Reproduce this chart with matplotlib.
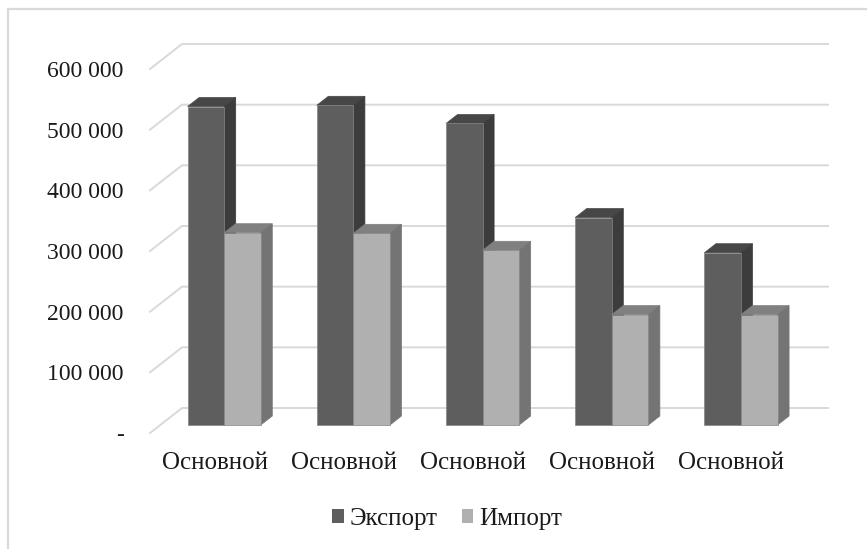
#!/usr/bin/env python3
import matplotlib
matplotlib.use('Agg')
import matplotlib.pyplot as plt
from matplotlib.patches import Polygon, Patch, Rectangle

categories = ['Основной', 'Основной', 'Основной', 'Основной', 'Основной']
export_values = [525000, 527000, 497000, 342000, 284000]
import_values = [317000, 316000, 288000, 182000, 182000]
y_ticks = [0, 100000, 200000, 300000, 400000, 500000, 600000]
y_labels = ['-', '100 000', '200 000', '300 000', '400 000', '500 000', '600 000']

W, H = 867, 549
# how far the back wall sits from the front edge of the floor
depth_x = 32 / 129.2
depth_y = 25 / 60.67 * 100000
bar_width = 0.283
bar_off = -0.005
bar_near = 0.32
bar_far = 0.68


def shift(x, y, d):
  return (x + d * depth_x, y + d * depth_y)


def draw_bar(ax, x0, x1, v, front, top, side):
  a, b = bar_near, bar_far
  ax.add_patch(Polygon([shift(x0, v, a), shift(x1, v, a), shift(x1, v, b), shift(x0, v, b)],
                       fc=top, ec=top, lw=0.5, clip_on=False, zorder=3))
  ax.add_patch(Polygon([shift(x1, 0, a), shift(x1, 0, b), shift(x1, v, b), shift(x1, v, a)],
                       fc=side, ec=side, lw=0.5, clip_on=False, zorder=3))
  ax.add_patch(Polygon([shift(x0, 0, a), shift(x1, 0, a), shift(x1, v, a), shift(x0, v, a)],
                       fc=front, ec='#858585', lw=0.5, clip_on=False, zorder=3))


plt.rcParams['font.family'] = ['Liberation Serif', 'DejaVu Serif']
fig = plt.figure(figsize=(W / 100, H / 100), dpi=100)
fig.add_artist(Rectangle((8 / W, -0.1), 1, 1 - 9 / H + 0.1, transform=fig.transFigure,
                         fc='none', ec='#d9d9d9', lw=1.6))

ax = fig.add_axes([150 / W, 1 - 433 / H, 646 / W, 364 / H])
ax.set_xlim(-0.5, 4.5)
ax.set_ylim(0, 600000)
for s in ax.spines.values():
  s.set_visible(False)
ax.patch.set_visible(False)

# grid on floor edge and back wall
for t in y_ticks:
  p = shift(-0.5, t, 1)
  q = shift(4.5, t, 1)
  ax.plot([-0.5, p[0], q[0]], [t, p[1], q[1]], color='#d9d9d9', lw=1.4, clip_on=False, zorder=1)

for i in range(len(categories)):
  c = i + bar_off
  draw_bar(ax, c - bar_width, c, export_values[i], '#5e5e5e', '#474747', '#3c3c3c')
  draw_bar(ax, c, c + bar_width, import_values[i], '#b0b0b0', '#808080', '#747474')

ax.set_xticks(range(len(categories)))
ax.set_xticklabels(categories, fontsize=18, color='#1a1a1a')
ax.set_yticks(y_ticks)
ax.set_yticklabels(y_labels, fontsize=17, color='#1a1a1a')
ax.tick_params(axis='both', length=0)
ax.tick_params(axis='y', pad=19)
ax.tick_params(axis='x', pad=14)

handles = [Patch(fc='#5e5e5e', label='Экспорт'), Patch(fc='#b0b0b0', label='Импорт')]
fig.legend(handles=handles, loc='center', bbox_to_anchor=(447 / W, 1 - 519 / H), ncol=2,
           frameon=False, fontsize=18, handlelength=0.45, handleheight=0.45,
           handletextpad=0.24, columnspacing=0.96, labelcolor='#1a1a1a')

fig.savefig('out.png', dpi=100)
